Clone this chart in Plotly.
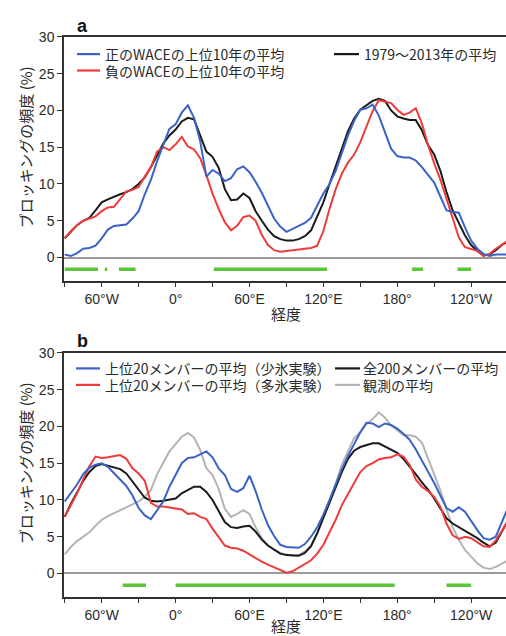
import plotly.graph_objects as go

# ---------------- data ----------------
lon = list(range(-90, 271, 5))

# panel a
wace_pos_top10 = [0.4, 0.2, 0.6, 1.2, 1.3, 1.6, 2.6, 3.8, 4.3, 4.4,
                  4.5, 5.3, 6.3, 8.6, 10.6, 13.1, 15.4, 17.5, 18.1, 19.7,
                  20.7, 19.0, 15.8, 11.0, 11.9, 11.4, 10.4, 10.8, 12.0, 12.4,
                  11.6, 10.3, 8.8, 7.1, 5.3, 4.2, 3.5, 3.9, 4.3, 4.7,
                  5.4, 7.0, 8.7, 10.0, 11.8, 14.2, 16.6, 18.6, 20.1, 20.3,
                  20.8, 19.3, 17.1, 14.8, 13.8, 13.6, 13.6, 13.2, 12.3, 11.2,
                  10.2, 8.3, 6.4, 6.2, 6.1, 4.1, 2.3, 1.2, 0.5, 0.2,
                  0.4, 0.4, 0.4]
wace_neg_top10 = [2.6, 3.6, 4.4, 5.0, 5.3, 5.6, 6.3, 6.8, 6.9, 8.0,
                  9.0, 9.2, 9.6, 11.0, 12.3, 14.4, 15.0, 14.6, 15.4, 16.4,
                  15.1, 14.7, 13.5, 11.2, 8.7, 6.6, 4.8, 3.7, 4.3, 5.5,
                  5.7, 5.0, 3.1, 1.7, 1.0, 0.8, 0.9, 1.0, 1.0, 1.2,
                  1.3, 1.6, 3.6, 6.6, 9.3, 11.4, 12.9, 14.0, 15.7, 17.8,
                  19.9, 21.4, 21.2, 21.0, 20.1, 19.4, 19.7, 20.3, 18.2, 15.3,
                  12.8, 10.6, 8.0, 5.5, 2.7, 1.4, 1.2, 0.9, 0.2, 0.5,
                  1.2, 1.8, 2.3]
mean_1979_2013 = [2.6, 3.5, 4.4, 5.0, 5.4, 6.4, 7.5, 7.9, 8.3, 8.6,
                  8.9, 9.3, 10.0, 10.9, 12.3, 14.0, 15.5, 16.6, 17.4, 18.5,
                  19.0, 18.8, 16.5, 14.4, 13.7, 12.2, 9.3, 7.8, 7.9, 8.7,
                  8.1, 6.3, 5.0, 3.8, 2.9, 2.5, 2.3, 2.3, 2.5, 2.9,
                  3.7, 5.5, 7.5, 10.0, 12.5, 15.0, 17.2, 18.9, 20.1, 20.7,
                  21.3, 21.6, 21.3, 20.0, 19.2, 18.9, 18.7, 18.7, 17.3, 15.3,
                  14.0, 11.8, 8.9, 6.4, 4.7, 3.0, 1.7, 0.9, 0.3, 0.4,
                  1.0, 1.7, 2.2]

# panel b
low_ice_top20 = [9.8, 10.9, 12.1, 13.5, 14.4, 14.8, 15.0, 14.5, 13.6, 12.7,
                 11.9, 10.6, 8.9, 7.9, 7.4, 8.6, 9.8, 11.8, 13.4, 15.0,
                 15.7, 15.8, 16.2, 16.6, 15.8, 14.3, 13.4, 11.5, 11.1, 11.6,
                 13.3, 11.2, 8.7, 6.6, 5.1, 3.9, 3.6, 3.6, 3.5, 4.0,
                 5.0, 6.3, 8.0, 10.0, 12.1, 14.2, 16.0, 17.6, 19.2, 20.5,
                 20.4, 19.9, 20.4, 20.2, 19.7, 19.0, 18.2, 16.9, 15.4, 14.0,
                 12.3, 10.6, 8.9, 8.4, 9.0, 8.4, 7.1, 5.9, 4.8, 4.6,
                 5.0, 7.0, 9.0]
high_ice_top20 = [7.7, 9.3, 10.9, 12.8, 14.6, 15.9, 15.7, 15.8, 15.9, 16.1,
                  15.6, 14.3, 13.6, 12.6, 9.6, 9.1, 9.1, 9.0, 8.8, 8.7,
                  8.1, 8.2, 7.7, 7.4, 6.1, 4.9, 3.8, 3.5, 3.4, 3.1,
                  2.6, 2.0, 1.6, 1.2, 0.8, 0.4, 0.1, 0.3, 0.8, 1.2,
                  1.8, 2.7, 3.9, 5.6, 7.3, 9.3, 10.9, 12.3, 13.8, 14.6,
                  15.0, 15.5, 15.7, 15.8, 16.2, 15.9, 14.8, 12.8, 11.8, 11.2,
                  10.4, 9.1, 6.8, 5.2, 4.7, 5.0, 4.8, 4.2, 3.7, 3.6,
                  4.5, 5.8, 7.3]
all200_mean = [7.7, 9.5, 11.0, 12.6, 13.8, 14.6, 14.9, 14.7, 14.5, 14.2,
               13.6, 12.5, 11.3, 10.3, 9.9, 9.8, 9.9, 10.0, 10.2, 10.9,
               11.4, 11.8, 11.8, 11.1, 10.0, 8.4, 7.0, 6.3, 6.2, 6.4,
               6.5, 5.7, 4.6, 3.8, 3.2, 2.7, 2.5, 2.5, 2.4, 2.8,
               3.7, 5.5, 7.6, 9.6, 11.7, 13.8, 15.6, 16.7, 17.2, 17.5,
               17.7, 17.7, 17.3, 16.9, 16.4, 15.6, 14.6, 13.5, 12.4, 11.4,
               10.2, 8.8, 7.5, 6.8, 6.3, 5.9, 5.4, 4.8, 4.2, 3.7,
               4.2, 5.6, 7.2]
obs_mean = [2.6, 3.6, 4.4, 5.0, 5.6, 6.5, 7.3, 7.8, 8.2, 8.7,
            9.1, 9.5, 9.8, 10.4, 11.4, 13.5, 15.1, 16.6, 17.6, 18.6,
            19.1, 18.5, 16.8, 14.3, 13.4, 11.5, 8.8, 7.7, 8.1, 8.6,
            8.1, 6.3, 4.8, 3.8, 3.2, 2.8, 2.6, 2.4, 2.5, 3.0,
            3.8, 5.4, 7.6, 9.6, 12.2, 14.8, 16.6, 18.4, 19.2, 20.3,
            21.0, 21.9, 21.2, 20.1, 19.5, 18.8, 18.8, 18.6, 17.8, 15.6,
            13.6, 11.3, 8.7, 6.3, 4.6, 3.2, 2.3, 1.4, 0.8, 0.6,
            0.9, 1.4, 1.8]

# significant longitude ranges (green bars)
sig_a = [(-90, -63), (-57.5, -55.5), (-46, -32.5), (31, 123), (192, 201), (229, 240)]
sig_b = [(-43, -24), (0, 178), (220, 240)]
sig_level = -1.6

xtick_vals = [-90, -60, -30, 0, 30, 60, 90, 120, 150, 180, 210, 240]
xtick_text = ["", "60°W", "", "0°", "", "60°E", "", "120°E", "", "180°", "", "120°W"]
ytick_vals = [0, 5, 10, 15, 20, 25, 30]

legend_a = [("正のWACEの上位10年の平均", "blue"), ("負のWACEの上位10年の平均", "red"),
            ("1979〜2013年の平均", "black")]
legend_b = [("上位20メンバーの平均（少氷実験）", "blue"), ("上位20メンバーの平均（多氷実験）", "red"),
            ("全200メンバーの平均", "black"), ("観測の平均", "gray")]
ytitle = "ブロッキングの頻度 (%)"
xtitle = "経度"

# ---------------- style ----------------
W, H = 506, 636
ML = 64
COL = {"blue": "#3b62c6", "red": "#f03b3b", "black": "#1a1a1a", "gray": "#b4b4b4"}
GREEN = "#5cc63a"
FONT = "Liberation Sans, Arial, Noto Sans CJK JP, sans-serif"
CJK = "Noto Sans CJK JP, Liberation Sans, sans-serif"
TXT = "#2a2a2a"


def px(x):
    return (x - ML) / (W - ML)


def py(y):
    return (H - y) / H


fig = go.Figure()


def add_line(xs, ys, color, xa, ya, width=2.0):
    fig.add_trace(go.Scatter(x=xs, y=ys, mode="lines", xaxis=xa, yaxis=ya,
                             line=dict(color=color, width=width), showlegend=False,
                             hoverinfo="skip"))


def add_sig(segs, xa, ya):
    xs, ys = [], []
    for a, b in segs:
        xs += [a, b, None]
        ys += [sig_level, sig_level, None]
    fig.add_trace(go.Scatter(x=xs, y=ys, mode="lines", xaxis=xa, yaxis=ya,
                             line=dict(color=GREEN, width=3.5), showlegend=False,
                             hoverinfo="skip"))


# panel a
add_line(lon, mean_1979_2013, COL["black"], "x", "y")
add_line(lon, wace_neg_top10, COL["red"], "x", "y")
add_line(lon, wace_pos_top10, COL["blue"], "x", "y")
add_sig(sig_a, "x", "y")
# panel b
add_line(lon, obs_mean, COL["gray"], "x2", "y2")
add_line(lon, all200_mean, COL["black"], "x2", "y2")
add_line(lon, high_ice_top20, COL["red"], "x2", "y2")
add_line(lon, low_ice_top20, COL["blue"], "x2", "y2")
add_sig(sig_b, "x2", "y2")

xaxis_common = dict(range=[-90.6, 268.3], tickvals=xtick_vals, ticktext=xtick_text,
                    ticks="outside", ticklen=5, tickwidth=1.3, tickcolor="#333",
                    showline=True, linecolor="#333", linewidth=1.5, mirror=True,
                    showgrid=False, zeroline=False,
                    tickfont=dict(family=FONT, size=14, color=TXT))
yaxis_common = dict(range=[-3.13, 30], tickvals=ytick_vals,
                    ticks="outside", ticklen=5, tickwidth=1.3, tickcolor="#333",
                    showline=True, linecolor="#333", linewidth=1.5,
                    showgrid=False, zeroline=True, zerolinecolor="#9a9a9a", zerolinewidth=2,
                    tickfont=dict(family=FONT, size=14, color=TXT))

fig.update_layout(
    width=W, height=H,
    margin=dict(l=ML, r=0, t=0, b=0),
    paper_bgcolor="white", plot_bgcolor="white",
    showlegend=False,
    xaxis=dict(domain=[0, 1], anchor="y", **xaxis_common),
    yaxis=dict(domain=[py(276), py(29.3)], anchor="x", **yaxis_common),
    xaxis2=dict(domain=[0, 1], anchor="y2", **xaxis_common),
    yaxis2=dict(domain=[py(596), py(349.3)], anchor="x2", **yaxis_common),
)

shapes = []
annotations = []


def legend_row(label, color, x0, x1, xt, yc):
    shapes.append(dict(type="line", xref="paper", yref="paper",
                       x0=px(x0), x1=px(x1), y0=py(yc), y1=py(yc),
                       line=dict(color=COL[color], width=2.2)))
    annotations.append(dict(text=label, xref="paper", yref="paper", x=px(xt), y=py(yc),
                            xanchor="left", yanchor="middle", showarrow=False, borderpad=0,
                            font=dict(family=CJK, size=14, color=TXT)))


legend_row(legend_a[0][0], legend_a[0][1], 77, 100, 104, 46.7)
legend_row(legend_a[1][0], legend_a[1][1], 77, 100, 104, 63.3)
legend_row(legend_a[2][0], legend_a[2][1], 334, 359, 363, 46.7)
legend_row(legend_b[0][0], legend_b[0][1], 76, 100, 104, 365)
legend_row(legend_b[1][0], legend_b[1][1], 76, 100, 104, 381.7)
legend_row(legend_b[2][0], legend_b[2][1], 335, 360, 362, 365)
legend_row(legend_b[3][0], legend_b[3][1], 335, 360, 362, 381.7)

for lab, yc in (("a", 18), ("b", 337)):
    annotations.append(dict(text="<b>%s</b>" % lab, xref="paper", yref="paper",
                            x=px(75), y=py(yc), xanchor="left", yanchor="middle",
                            showarrow=False, font=dict(family=FONT, size=18, color="#111")))

for yc in (141, 461):
    annotations.append(dict(text=ytitle, xref="paper", yref="paper", x=px(25), y=py(yc),
                            xanchor="center", yanchor="middle", textangle=-90,
                            showarrow=False, font=dict(family=CJK, size=15, color=TXT)))

for yc in (309, 625):
    annotations.append(dict(text=xtitle, xref="paper", yref="paper", x=px(286), y=py(yc),
                            xanchor="center", yanchor="middle", showarrow=False, borderpad=0,
                            font=dict(family=CJK, size=15, color=TXT)))

fig.update_layout(shapes=shapes, annotations=annotations)

fig.write_html("out.html", config={"displayModeBar": False},
               post_script="document.body.style.margin='0';document.body.style.overflow='hidden';")
